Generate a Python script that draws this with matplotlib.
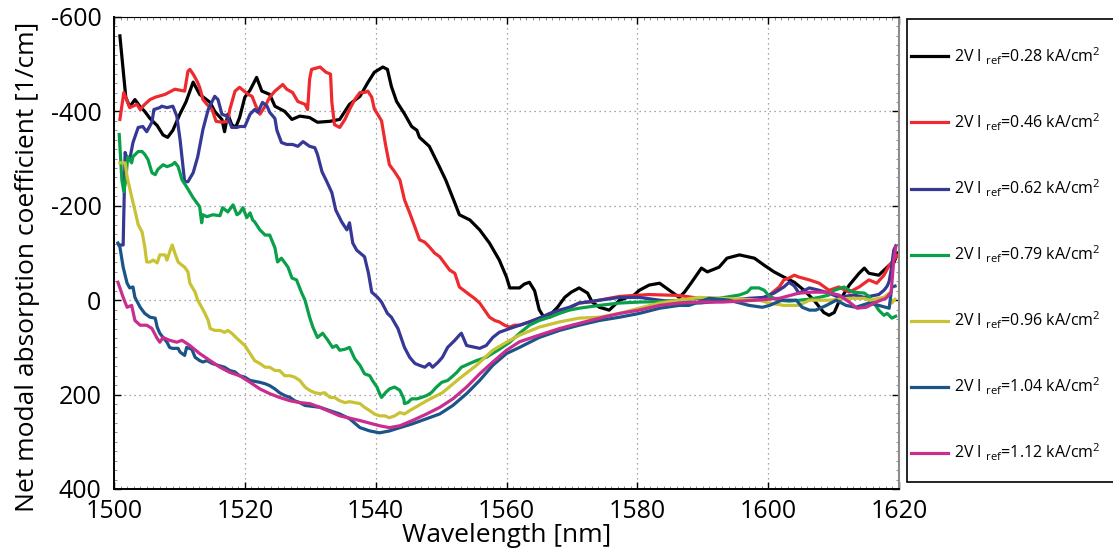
import matplotlib
matplotlib.use("Agg")
import matplotlib.pyplot as plt
from matplotlib.patches import Rectangle
from matplotlib.ticker import MultipleLocator

plt.rcParams['font.family'] = ['Open Sans', 'DejaVu Sans']
plt.rcParams['mathtext.fontset'] = 'custom'
plt.rcParams['mathtext.rm'] = 'Open Sans'
plt.rcParams['mathtext.it'] = 'Open Sans'
plt.rcParams['axes.unicode_minus'] = False

# wavelength [nm] / net modal absorption [1/cm] for each reference current
wl_028 = [1500.9, 1501.8, 1502.4, 1503.2, 1504.0, 1504.7, 1505.5, 1506.6, 1507.5, 1508.2,
          1509.0, 1510.1, 1511.0, 1512.1, 1513.1, 1514.7, 1515.4, 1516.5, 1516.9, 1517.4,
          1518.0, 1518.6, 1519.2, 1520.0, 1520.8, 1521.8, 1522.6, 1523.8, 1524.6, 1526.1,
          1527.2, 1528.4, 1529.9, 1531.1, 1533.0, 1534.5, 1536.0, 1537.6, 1538.8, 1539.8,
          1541.1, 1541.8, 1542.4, 1543.2, 1544.4, 1545.5, 1546.3, 1546.7, 1548.2, 1549.8,
          1550.7, 1552.1, 1552.8, 1554.4, 1555.9, 1557.4, 1558.9, 1560.0, 1560.5, 1562.0,
          1562.7, 1563.5, 1564.3, 1565.0, 1565.8, 1566.6, 1567.8, 1568.9, 1569.9, 1571.1,
          1572.4, 1573.1, 1574.2, 1575.7, 1577.3, 1579.5, 1580.3, 1581.8, 1583.4, 1584.9,
          1586.4, 1587.2, 1588.2, 1589.8, 1590.7, 1592.5, 1593.7, 1595.6, 1597.9, 1599.4,
          1600.9, 1602.4, 1604.0, 1605.5, 1607.0, 1608.5, 1609.3, 1610.1, 1610.8, 1612.4,
          1613.9, 1614.7, 1615.4, 1616.9, 1618.5, 1619.2, 1619.8]
ab_028 = [-560, -430, -410, -425, -410, -400, -385, -370, -350, -345,
          -360, -395, -420, -462, -436, -419, -400, -383, -357, -394,
          -372, -366, -387, -430, -445, -472, -443, -436, -411, -400,
          -383, -390, -387, -377, -379, -383, -415, -432, -461, -483,
          -494, -489, -453, -421, -395, -368, -360, -345, -326, -281,
          -255, -206, -181, -170, -149, -121, -85, -49, -26, -26,
          -34, -38, -20, 20, 38, 32, 15, -6, -17, -26,
          -15, 4, 15, 21, 0, -11, -21, -32, -36, -21,
          -6, -17, -36, -68, -60, -70, -89, -96, -89, -74,
          -60, -49, -38, -21, 0, 26, 32, 26, 4, -32,
          -57, -68, -57, -53, -74, -79, -100]

wl_046 = [1500.9, 1501.5, 1502.4, 1503.5, 1504.0, 1504.7, 1505.5, 1506.3, 1507.8, 1509.3,
          1510.8, 1511.3, 1511.6, 1512.1, 1512.7, 1513.1, 1513.6, 1514.2, 1515.0, 1515.6,
          1516.5, 1517.4, 1517.7, 1518.5, 1519.2, 1520.5, 1521.1, 1521.7, 1522.3, 1523.1,
          1523.8, 1524.6, 1525.8, 1526.4, 1527.3, 1528.1, 1529.2, 1529.6, 1529.9, 1530.2,
          1531.5, 1532.4, 1533.1, 1533.3, 1533.7, 1534.5, 1535.3, 1536.0, 1536.8, 1537.6,
          1538.3, 1538.8, 1539.4, 1539.8, 1540.3, 1540.9, 1541.5, 1542.1, 1542.9, 1543.7,
          1544.4, 1545.2, 1546.0, 1546.7, 1547.5, 1548.2, 1549.0, 1549.8, 1550.5, 1551.3,
          1552.1, 1552.8, 1554.4, 1555.1, 1555.9, 1557.4, 1558.2, 1558.9, 1559.7, 1560.5,
          1561.2, 1562.0, 1563.5, 1565.0, 1566.6, 1568.1, 1569.6, 1571.1, 1572.7, 1574.2,
          1575.7, 1577.3, 1581.8, 1586.4, 1589.5, 1592.5, 1595.6, 1598.6, 1600.2, 1601.7,
          1602.4, 1603.2, 1604.0, 1604.7, 1606.3, 1607.8, 1609.3, 1610.8, 1612.4, 1613.9,
          1615.4, 1616.6, 1617.7, 1618.5, 1619.2, 1619.7]
ab_046 = [-383, -440, -408, -415, -404, -415, -425, -430, -436, -447,
          -443, -485, -489, -479, -464, -451, -425, -415, -404, -379,
          -377, -379, -404, -443, -451, -436, -432, -411, -394, -411,
          -430, -443, -457, -447, -440, -421, -415, -404, -468, -489,
          -494, -483, -479, -420, -372, -366, -383, -404, -425, -440,
          -440, -443, -430, -405, -394, -380, -330, -287, -272, -255,
          -213, -185, -155, -128, -123, -113, -100, -92, -79, -64,
          -57, -28, -11, -4, 6, 36, 43, 46, 53, 57,
          53, 53, 46, 38, 36, 26, 17, 6, 4, 0,
          -4, -8, -12, -10, -4, 0, 0, -2, -11, -28,
          -43, -47, -53, -49, -43, -36, -21, -28, -17, -28,
          -43, -36, -53, -74, -85, -95]

wl_062 = [1500.8, 1501.4, 1501.7, 1502.0, 1502.4, 1502.9, 1503.7, 1504.4, 1505.0, 1505.8,
          1506.1, 1507.0, 1507.3, 1508.1, 1509.0, 1509.6, 1510.1, 1510.8, 1511.3, 1512.1,
          1512.8, 1513.6, 1514.4, 1515.4, 1515.9, 1516.5, 1517.3, 1518.0, 1518.8, 1519.2,
          1520.0, 1520.8, 1521.5, 1522.0, 1522.7, 1523.4, 1523.8, 1524.6, 1524.9, 1525.6,
          1526.4, 1527.3, 1528.1, 1528.9, 1529.9, 1530.7, 1531.1, 1531.8, 1532.4, 1533.3,
          1533.9, 1534.8, 1535.6, 1536.0, 1536.5, 1537.1, 1538.3, 1538.9, 1539.4, 1540.3,
          1540.9, 1541.8, 1542.4, 1543.4, 1544.4, 1545.2, 1546.0, 1546.7, 1547.5, 1548.2,
          1548.7, 1549.5, 1550.2, 1551.0, 1552.1, 1552.8, 1553.1, 1553.9, 1555.9, 1556.9,
          1557.9, 1558.9, 1560.5, 1562.0, 1563.5, 1565.0, 1566.6, 1568.1, 1569.6, 1571.1,
          1574.2, 1577.3, 1580.3, 1583.4, 1586.4, 1589.5, 1591.0, 1594.0, 1597.1, 1599.4,
          1600.9, 1602.4, 1603.2, 1604.0, 1604.7, 1606.3, 1607.8, 1609.3, 1610.8, 1613.1,
          1614.7, 1616.9, 1617.7, 1618.2, 1618.5, 1618.8, 1619.2, 1619.5]
ab_062 = [-117, -117, -313, -300, -298, -334, -366, -368, -357, -377,
          -404, -408, -411, -408, -411, -390, -340, -251, -251, -270,
          -304, -362, -404, -432, -425, -394, -390, -366, -366, -368,
          -368, -394, -404, -398, -419, -411, -398, -385, -360, -334,
          -330, -330, -326, -336, -326, -323, -309, -272, -255, -228,
          -191, -166, -149, -164, -121, -106, -92, -57, -17, -6,
          4, 28, 36, 60, 100, 121, 134, 138, 142, 134,
          142, 132, 121, 100, 85, 74, 70, 96, 102, 96,
          79, 68, 60, 53, 46, 38, 28, 21, 15, 6,
          0, -6, -6, 0, 4, 6, 4, 0, -4, -6,
          -15, -28, -38, -30, -15, -26, -21, -15, -6, -11,
          -6, -12, -21, -30, -40, -64, -106, -115]

wl_079 = [1500.8, 1501.2, 1501.5, 1501.8, 1502.1, 1502.7, 1502.9, 1503.7, 1504.3, 1504.7,
          1505.2, 1505.8, 1506.3, 1506.7, 1507.5, 1508.1, 1508.9, 1509.3, 1509.8, 1510.4,
          1511.1, 1512.1, 1513.1, 1513.4, 1513.6, 1514.2, 1515.1, 1516.2, 1516.6, 1517.4,
          1518.2, 1518.8, 1519.2, 1519.7, 1520.3, 1520.8, 1521.2, 1521.5, 1522.3, 1523.1,
          1523.8, 1524.6, 1525.0, 1525.6, 1526.6, 1527.2, 1527.9, 1528.7, 1529.2, 1529.9,
          1530.4, 1531.1, 1531.9, 1532.7, 1533.4, 1534.0, 1534.5, 1535.3, 1536.0, 1536.8,
          1537.6, 1538.3, 1539.1, 1539.5, 1540.2, 1540.6, 1540.9, 1541.5, 1542.1, 1542.9,
          1543.7, 1544.3, 1544.4, 1544.9, 1545.5, 1546.3, 1547.0, 1547.8, 1548.5, 1549.3,
          1550.1, 1551.0, 1551.6, 1552.4, 1553.1, 1554.4, 1555.4, 1556.9, 1558.9, 1560.5,
          1562.0, 1563.5, 1565.0, 1566.6, 1568.1, 1569.6, 1571.1, 1574.2, 1577.3, 1580.3,
          1583.4, 1586.4, 1589.5, 1592.5, 1595.6, 1596.8, 1597.4, 1598.6, 1599.4, 1600.2,
          1601.7, 1603.2, 1606.3, 1607.8, 1609.3, 1610.1, 1611.6, 1612.4, 1613.1, 1614.7,
          1615.4, 1616.2, 1616.9, 1617.7, 1618.2, 1618.9, 1619.5]
ab_079 = [-351, -255, -230, -255, -304, -291, -304, -315, -315, -309,
          -298, -270, -266, -277, -287, -283, -287, -292, -283, -255,
          -240, -217, -198, -164, -181, -177, -181, -179, -196, -187,
          -202, -181, -185, -196, -175, -185, -170, -166, -149, -138,
          -138, -111, -81, -89, -70, -47, -43, -15, 0, 36,
          57, 79, 70, 85, 100, 96, 106, 104, 100, 124,
          138, 156, 160, 170, 184, 198, 206, 196, 188, 184,
          191, 209, 219, 217, 209, 209, 206, 202, 196, 184,
          174, 170, 163, 153, 142, 134, 128, 121, 104, 89,
          70, 53, 43, 36, 28, 21, 17, 11, 6, 4,
          3, 0, -4, -4, -11, -17, -26, -26, -21, -8,
          0, 2, -2, -6, -11, -21, -28, -21, -17, -15,
          -8, 6, 21, 32, 28, 38, 34]

wl_096 = [1500.9, 1501.7, 1502.0, 1502.7, 1503.2, 1503.7, 1504.3, 1504.7, 1505.0, 1505.5,
          1506.0, 1506.6, 1507.0, 1507.8, 1508.1, 1508.5, 1508.9, 1509.3, 1509.8, 1510.4,
          1510.8, 1511.3, 1511.6, 1512.4, 1512.8, 1513.4, 1513.9, 1514.4, 1514.7, 1515.4,
          1516.2, 1516.9, 1517.4, 1518.0, 1518.8, 1520.0, 1520.8, 1521.5, 1522.3, 1523.1,
          1523.8, 1524.6, 1525.3, 1526.1, 1526.9, 1527.6, 1528.4, 1529.2, 1529.9, 1530.7,
          1531.5, 1532.2, 1533.0, 1533.7, 1534.5, 1535.3, 1536.0, 1536.8, 1537.6, 1538.3,
          1539.1, 1539.8, 1540.6, 1541.4, 1542.1, 1542.9, 1543.7, 1544.4, 1545.2, 1547.8,
          1550.2, 1552.8, 1555.4, 1557.9, 1560.0, 1562.0, 1565.0, 1568.1, 1571.1, 1574.2,
          1577.3, 1580.3, 1583.4, 1586.4, 1589.5, 1592.5, 1596.3, 1598.6, 1600.2, 1602.4,
          1604.7, 1606.3, 1609.3, 1612.4, 1614.7, 1615.4, 1616.9, 1617.7, 1618.5, 1618.9,
          1619.4]
ab_096 = [-291, -291, -262, -219, -190, -160, -144, -113, -81, -81,
          -85, -79, -96, -96, -85, -102, -117, -100, -81, -74,
          -70, -60, -36, -17, 0, 15, 28, 43, 60, 64,
          64, 68, 64, 70, 81, 96, 113, 128, 134, 142,
          142, 149, 149, 160, 160, 163, 170, 184, 191, 196,
          198, 196, 206, 206, 213, 217, 215, 217, 219, 227,
          234, 241, 245, 245, 249, 245, 238, 241, 234, 213,
          196, 166, 138, 106, 89, 74, 57, 46, 38, 36,
          28, 17, 6, 0, -6, -4, -2, 0, 6, 11,
          11, 0, 0, -4, -4, 0, -4, -6, -15, 6,
          -2]

wl_104 = [1500.6, 1500.9, 1501.4, 1502.0, 1502.4, 1502.9, 1503.2, 1504.0, 1504.7, 1505.5,
          1506.3, 1506.6, 1507.0, 1507.5, 1508.1, 1508.5, 1508.9, 1509.8, 1510.1, 1510.8,
          1511.1, 1511.9, 1512.4, 1513.1, 1513.6, 1514.2, 1515.0, 1515.9, 1516.9, 1517.7,
          1518.5, 1519.2, 1520.0, 1520.8, 1522.3, 1523.1, 1523.8, 1524.6, 1525.3, 1526.1,
          1526.9, 1527.6, 1528.4, 1529.2, 1531.5, 1534.5, 1536.0, 1537.6, 1539.1, 1540.6,
          1542.1, 1543.7, 1545.6, 1547.8, 1549.8, 1551.8, 1553.9, 1555.9, 1557.9, 1560.0,
          1562.0, 1565.0, 1568.1, 1571.1, 1574.2, 1577.3, 1580.3, 1583.4, 1586.4, 1587.9,
          1591.0, 1594.0, 1597.1, 1599.1, 1600.2, 1602.1, 1604.3, 1605.2, 1606.3, 1607.3,
          1608.9, 1610.4, 1611.9, 1613.4, 1615.4, 1616.9, 1618.5, 1618.9, 1619.4]
ab_104 = [-121, -113, -70, -36, -26, -28, -6, 15, 28, 36,
          38, 57, 70, 79, 89, 100, 102, 102, 110, 117,
          100, 104, 121, 128, 131, 128, 134, 138, 142, 149,
          152, 160, 163, 170, 174, 177, 181, 188, 196, 202,
          206, 213, 217, 223, 227, 241, 251, 270, 277, 281,
          277, 270, 262, 251, 241, 223, 198, 170, 138, 113,
          100, 79, 64, 53, 43, 36, 28, 17, 11, 11,
          -4, 0, 11, 15, 11, 0, 0, 15, 21, 21,
          11, 0, 11, 15, 6, 11, 17, -28, -30]

wl_112 = [1500.6, 1501.4, 1502.0, 1502.7, 1503.2, 1504.0, 1505.0, 1505.8, 1506.6, 1507.0,
          1507.5, 1508.5, 1509.6, 1510.4, 1511.6, 1513.1, 1514.7, 1516.2, 1517.7, 1519.2,
          1520.8, 1522.3, 1523.8, 1525.3, 1526.9, 1528.4, 1529.9, 1531.5, 1534.5, 1537.6,
          1540.6, 1542.1, 1543.7, 1545.6, 1547.8, 1549.8, 1551.8, 1553.9, 1555.9, 1557.9,
          1560.0, 1562.0, 1565.0, 1568.1, 1571.1, 1574.2, 1577.3, 1580.3, 1583.4, 1586.4,
          1589.5, 1593.0, 1598.2, 1601.7, 1604.7, 1606.7, 1608.9, 1610.8, 1612.4, 1613.6,
          1615.0, 1616.5, 1618.0, 1618.8, 1619.2, 1619.5]
ab_112 = [-38, -6, 15, 11, 43, 53, 53, 60, 81, 89,
          79, 85, 89, 85, 96, 113, 128, 142, 153, 160,
          174, 188, 198, 206, 213, 217, 219, 227, 245, 255,
          266, 270, 266, 255, 241, 227, 209, 184, 156, 131,
          106, 88, 74, 60, 49, 38, 28, 21, 11, 6,
          4, 4, 0, -4, -15, -17, -17, -11, 4, 17,
          15, 4, -4, -17, -85, -113]

currents = ["0.28", "0.46", "0.62", "0.79", "0.96", "1.04", "1.12"]
colors = ["#000000", "#ee2a2e", "#363895", "#0aa04a", "#c9c234", "#1b5487", "#c92e8f"]
wavelengths = [wl_028, wl_046, wl_062, wl_079, wl_096, wl_104, wl_112]
absorption = [ab_028, ab_046, ab_062, ab_079, ab_096, ab_104, ab_112]

fig = plt.figure(figsize=(11.13, 5.48), dpi=100)
ax = fig.add_axes([114 / 1113, 59 / 548, 785 / 1113, 472 / 548])

handles = []
for wl, ab, c in zip(wavelengths, absorption, colors):
    ln, = ax.plot(wl, ab, color=c, lw=2.3, solid_joinstyle='round')
    handles.append(ln)

ax.set_xlim(1500, 1620)
ax.set_ylim(400, -600)
ax.xaxis.set_major_locator(MultipleLocator(20))
ax.xaxis.set_minor_locator(MultipleLocator(1))
ax.yaxis.set_major_locator(MultipleLocator(200))
ax.yaxis.set_minor_locator(MultipleLocator(20))
ax.grid(True, which='major', color='#8a8a8a', linestyle=(0, (1, 3)), lw=0.9)
ax.tick_params(which='both', direction='in', top=True, right=True, labelsize=18, pad=9)
ax.tick_params(axis='x', pad=7.5)
ax.tick_params(which='major', length=5, width=1.0)
ax.tick_params(which='minor', length=2.5, width=0.6, color='#777777')

for side in ['left', 'bottom']:
    ax.spines[side].set_linewidth(1.4)
ax.spines['top'].set_linewidth(0.8)
ax.spines['right'].set_color('#8c8c8c')
ax.spines['right'].set_linewidth(1.5)

ax.set_xlabel("Wavelength [nm]", fontsize=19)
ax.xaxis.set_label_coords(0.5, -0.072)
ax.set_ylabel("Net modal absorption coefficient [1/cm]", fontsize=19)
ax.yaxis.set_label_coords(-0.094, 0.47)

# legend box runs off the right edge of the figure
fig.patches.append(Rectangle((907 / 1113, 1 - 482 / 548), 0.3, 463 / 548,
                             transform=fig.transFigure, facecolor='white',
                             edgecolor='black', lw=1.2, zorder=0))
labels = [r"2V I $_{\mathrm{ref}}$=%s kA/cm$^{2}$" % c for c in currents]
fig.legend(handles, labels, loc='upper left', bbox_to_anchor=(908 / 1113, 1 - 42 / 548),
           frameon=False, fontsize=11.5, handlelength=2.3, handletextpad=0.35,
           labelspacing=2.8, borderpad=0.2, borderaxespad=0)

fig.savefig("out.png", dpi=100)
